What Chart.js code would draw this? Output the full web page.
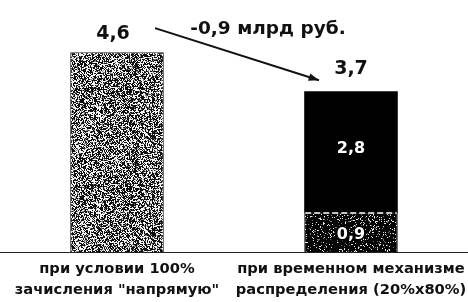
<!DOCTYPE html>
<html lang="ru">
<head>
<meta charset="UTF-8">
<title>Bars</title>
<script src="https://cdn.jsdelivr.net/npm/chart.js"></script>
<style>
  html, body { margin: 0; padding: 0; background: #fff; }
  #wrap { width: 468px; height: 302px; }
</style>
</head>
<body>
<div id="wrap"><canvas id="chart"></canvas></div>
<script>
    // chart data
    const categories = [
        ["при условии 100%", "зачисления \"напрямую\""],
        ["при временном механизме", "распределения (20%x80%)"]
    ];
    const baseValues = [4.6, 0.9];
    const topValues = [0, 2.8];
    const totalLabels = ["4,6", "3,7"];
    const segmentLabels = [null, "0,9"];
    const topSegmentLabels = [null, "2,8"];
    const changeText = "-0,9 млрд руб.";

    const FONT = "'DejaVu Sans'";

    // speckled texture, deterministic noise
    function speckle(light) {
        const c = document.createElement("canvas");
        c.width = 101; c.height = 97;
        const g = c.getContext("2d");
        const img = g.createImageData(101, 97);
        let s = light ? 24681 : 777;
        for (let i = 0; i < 101 * 97; i++) {
            s = (s * 1103515245 + 12345) & 0x7fffffff;
            const r = (s >> 8) / 8388608;
            let v;
            if (light) {
                v = r < 0.5 ? 15 : (r < 0.6 ? 130 : 245);
            } else {
                v = r < 0.86 ? 5 : (r < 0.92 ? 120 : 230);
            }
            img.data[i * 4] = v;
            img.data[i * 4 + 1] = v;
            img.data[i * 4 + 2] = v;
            img.data[i * 4 + 3] = 255;
        }
        g.putImageData(img, 0, 0);
        return g.createPattern(c, "repeat");
    }

    const lightFill = speckle(true);
    const darkFill = speckle(false);

    const labelsPlugin = {
        id: "labels",
        afterDatasetsDraw(chart) {
            const ctx = chart.ctx;
            const base = chart.getDatasetMeta(0).data;
            const top = chart.getDatasetMeta(1).data;
            ctx.save();
            ctx.textAlign = "center";
            ctx.textBaseline = "middle";

            // dashed boundary between segments
            const b1 = base[1];
            ctx.strokeStyle = "#fff";
            ctx.lineWidth = 1.5;
            ctx.setLineDash([6, 3]);
            ctx.beginPath();
            ctx.moveTo(b1.x - b1.width / 2 + 1, b1.y);
            ctx.lineTo(b1.x + b1.width / 2 - 1, b1.y);
            ctx.stroke();
            ctx.setLineDash([]);

            // totals above bars
            ctx.font = "bold 19px " + FONT;
            ctx.fillStyle = "#111";
            ctx.fillText(totalLabels[0], base[0].x - 4, base[0].y - 18);
            ctx.fillText(totalLabels[1], top[1].x, top[1].y - 22);

            // labels inside segments
            ctx.font = "bold 16px " + FONT;
            ctx.lineJoin = "round";
            const inside = (txt, x, y) => {
                ctx.lineWidth = 3;
                ctx.strokeStyle = "#000";
                ctx.strokeText(txt, x, y);
                ctx.fillStyle = "#fff";
                ctx.fillText(txt, x, y);
            };
            if (segmentLabels[1]) inside(segmentLabels[1], b1.x, (b1.y + b1.base) / 2 + 2);
            const t1 = top[1];
            if (topSegmentLabels[1]) inside(topSegmentLabels[1], t1.x, (t1.y + t1.base) / 2 - 3);

            // change annotation with arrow
            const x0 = base[0].x + 38, y0 = base[0].y - 24;
            const x1 = t1.x - 32, y1 = t1.y - 11;
            ctx.strokeStyle = "#111";
            ctx.fillStyle = "#111";
            ctx.lineWidth = 2;
            ctx.beginPath();
            ctx.moveTo(x0, y0);
            ctx.lineTo(x1, y1);
            ctx.stroke();
            const ang = Math.atan2(y1 - y0, x1 - x0);
            ctx.beginPath();
            ctx.moveTo(x1, y1);
            ctx.lineTo(x1 - 11 * Math.cos(ang - 0.35), y1 - 11 * Math.sin(ang - 0.35));
            ctx.lineTo(x1 - 11 * Math.cos(ang + 0.35), y1 - 11 * Math.sin(ang + 0.35));
            ctx.closePath();
            ctx.fill();

            ctx.font = "bold 18.5px " + FONT;
            ctx.fillText(changeText, (base[0].x + t1.x) / 2 + 34, base[0].y - 23);
            ctx.restore();
        }
    };

    new Chart(document.getElementById("chart"), {
        type: "bar",
        data: {
            labels: categories,
            datasets: [
                {
                    data: baseValues,
                    backgroundColor: [lightFill, darkFill],
                    borderColor: "#222",
                    borderWidth: 1,
                    borderSkipped: "bottom"
                },
                {
                    data: topValues,
                    backgroundColor: "#000",
                    borderWidth: 0
                }
            ]
        },
        options: {
            responsive: true,
            maintainAspectRatio: false,
            animation: false,
            layout: { padding: 0 },
            datasets: { bar: { categoryPercentage: 1, barPercentage: 0.4 } },
            plugins: {
                legend: { display: false },
                tooltip: { enabled: false }
            },
            scales: {
                x: {
                    stacked: true,
                    grid: { display: false, drawTicks: false },
                    border: { display: true, color: "#222", width: 1 },
                    afterFit(scale) {
                        scale.height = 50;
                        scale.paddingLeft = 0;
                        scale.paddingRight = 0;
                    },
                    ticks: {
                        color: "#111",
                        padding: 7,
                        maxRotation: 0,
                        autoSkip: false,
                        font: { family: FONT, size: 14.7, weight: "bold", lineHeight: 1.43 }
                    }
                },
                y: {
                    stacked: true,
                    display: false,
                    min: 0,
                    max: 5.8
                }
            }
        },
        plugins: [labelsPlugin]
    });
</script>
</body>
</html>
